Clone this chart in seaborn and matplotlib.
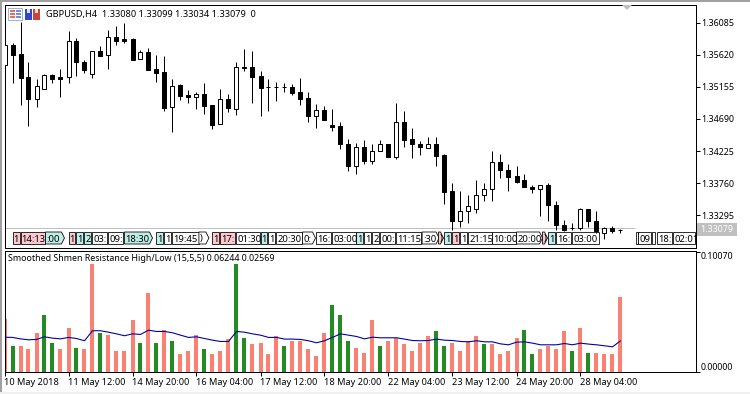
import seaborn as sns
import matplotlib
matplotlib.use('Agg')
import matplotlib.pyplot as plt
import matplotlib.ticker as mticker
from matplotlib.patches import Rectangle, Polygon
from matplotlib.transforms import blended_transform_factory
import numpy as np
import pandas as pd

# Candles
open_p = [1.35464, 1.35754, 1.35629, 1.35290, 1.34981, 1.35117, 1.35319, 1.35290, 1.35290, 1.35812,
          1.35508, 1.35334, 1.35667, 1.35609, 1.35870, 1.35841, 1.35841, 1.35551, 1.35653, 1.35406,
          1.35363, 1.34856, 1.35175, 1.35030, 1.35010, 1.35044, 1.34885, 1.34609, 1.34972, 1.34827,
          1.35435, 1.35435, 1.35305, 1.35146, 1.35146, 1.35146, 1.35146, 1.35073, 1.34986, 1.34735,
          1.34812, 1.34595, 1.34580, 1.34320, 1.34015, 1.34276, 1.34083, 1.34218, 1.34320, 1.34141,
          1.34638, 1.34392, 1.34320, 1.34262, 1.34320, 1.34160, 1.33639, 1.33218, 1.33363, 1.33392,
          1.33581, 1.33682, 1.34059, 1.33943, 1.33856, 1.33798, 1.33697, 1.33682, 1.33726, 1.33450,
          1.33160, 1.33117, 1.33117, 1.33392, 1.33218, 1.33044, 1.33117, 1.33080]
high_p = [1.35783, 1.35793, 1.36097, 1.35513, 1.35261, 1.35339, 1.35339, 1.35406, 1.35957, 1.35860,
          1.35537, 1.35667, 1.35740, 1.35971, 1.36029, 1.36073, 1.35856, 1.35682, 1.35711, 1.35609,
          1.35595, 1.35261, 1.35189, 1.35107, 1.35073, 1.35203, 1.34885, 1.35117, 1.35044, 1.35508,
          1.35696, 1.35667, 1.35377, 1.35261, 1.35218, 1.35203, 1.35189, 1.35276, 1.35073, 1.34899,
          1.34870, 1.34827, 1.34638, 1.34392, 1.34334, 1.34378, 1.34320, 1.34378, 1.34320, 1.34914,
          1.34798, 1.34551, 1.34363, 1.34421, 1.34421, 1.34175, 1.33769, 1.33639, 1.33581, 1.33798,
          1.33769, 1.34218, 1.34175, 1.34044, 1.34015, 1.33885, 1.33740, 1.33726, 1.33769, 1.33508,
          1.33233, 1.33189, 1.33407, 1.33392, 1.33363, 1.33131, 1.33146, 1.33099]
low_p = [1.35445, 1.35213, 1.34894, 1.34585, 1.34865, 1.35117, 1.35213, 1.35010, 1.35203, 1.35315,
         1.35358, 1.35286, 1.35604, 1.35416, 1.35764, 1.35783, 1.35546, 1.35551, 1.35402, 1.35228,
         1.34807, 1.34503, 1.34967, 1.34923, 1.34836, 1.34764, 1.34547, 1.34609, 1.34793, 1.34749,
         1.35387, 1.34923, 1.34735, 1.34807, 1.34952, 1.35073, 1.35039, 1.34894, 1.34648, 1.34551,
         1.34677, 1.34513, 1.34252, 1.33938, 1.33895, 1.34039, 1.34039, 1.34218, 1.34141, 1.34112,
         1.34286, 1.34126, 1.34170, 1.34262, 1.34011, 1.33460, 1.33078, 1.33127, 1.33189, 1.33334,
         1.33494, 1.33508, 1.33841, 1.33639, 1.33769, 1.33697, 1.33610, 1.33286, 1.33214, 1.33078,
         1.33069, 1.33078, 1.33088, 1.33131, 1.33044, 1.32958, 1.33044, 1.33034]
close_p = [1.35754, 1.35619, 1.35286, 1.34981, 1.35160, 1.35319, 1.35271, 1.35271, 1.35812, 1.35508,
           1.35402, 1.35667, 1.35604, 1.35870, 1.35822, 1.35822, 1.35546, 1.35653, 1.35402, 1.35358,
           1.34851, 1.35170, 1.35025, 1.35010, 1.35044, 1.34880, 1.34605, 1.34972, 1.34851, 1.35435,
           1.35421, 1.35300, 1.35141, 1.35146, 1.35146, 1.35146, 1.35068, 1.34981, 1.34735, 1.34812,
           1.34677, 1.34571, 1.34324, 1.34011, 1.34276, 1.34083, 1.34218, 1.34320, 1.34141, 1.34638,
           1.34382, 1.34320, 1.34276, 1.34320, 1.34155, 1.33634, 1.33218, 1.33363, 1.33436, 1.33581,
           1.33682, 1.34059, 1.33943, 1.33851, 1.33779, 1.33697, 1.33682, 1.33726, 1.33450, 1.33160,
           1.33078, 1.33117, 1.33392, 1.33218, 1.33073, 1.33117, 1.33073, 1.33079]

# Indicator histogram and its smoothed line
hist_vals = [.0442, .0218, .0218, .0185, .0319, .0470, .0243, .0185, .0361, .0201,
             .0185, .0898, .0327, .0310, .0168, .0176, .0428, .0243, .0655, .0235,
             .0352, .0252, .0143, .0168, .0310, .0193, .0143, .0168, .0269, .0898,
             .0285, .0227, .0235, .0151, .0294, .0218, .0260, .0252, .0193, .0134,
             .0327, .0554, .0478, .0252, .0201, .0159, .0428, .0218, .0260, .0285,
             .0227, .0168, .0235, .0294, .0344, .0218, .0235, .0176, .0252, .0302,
             .0227, .0227, .0143, .0168, .0277, .0352, .0151, .0193, .0218, .0185,
             .0336, .0168, .0369, .0159, .0159, .0143, .0151, .0624]
hist_green = [1, 5, 6, 9, 12, 17, 19, 21, 25, 29, 30, 35, 41, 42, 43, 47, 54, 55, 60, 65, 66, 71, 73]
line_vals = [.0288, .0286, .0274, .0266, .0269, .0291, .0280, .0274, .0286, .0277,
             .0258, .0342, .0342, .0330, .0316, .0300, .0316, .0311, .0347, .0336,
             .0336, .0325, .0305, .0286, .0291, .0277, .0263, .0252, .0252, .0336,
             .0330, .0316, .0305, .0286, .0286, .0272, .0272, .0269, .0258, .0241,
             .0258, .0286, .0316, .0305, .0294, .0274, .0288, .0283, .0283, .0283,
             .0272, .0260, .0258, .0260, .0272, .0263, .0260, .0252, .0249, .0258,
             .0249, .0249, .0232, .0224, .0246, .0249, .0238, .0224, .0224, .0224,
             .0235, .0224, .0238, .0230, .0224, .0216, .0207, .0257]

price_ticks = [1.36085, 1.35620, 1.35155, 1.34690, 1.34225, 1.33760, 1.33295]
date_ticks = ['10 May 2018', '11 May 12:00', '14 May 20:00', '16 May 04:00', '17 May 12:00',
              '18 May 20:00', '22 May 04:00', '23 May 12:00', '24 May 20:00', '28 May 04:00']

# Event flags along the bottom of the price window
flag_labels = ['1', '14:13', ':00', '1', '1', '2', '03:', '09:', '18:30', '1', '1', '19:45', ')', '1', '17:',
               '01:30', '1', '1', '20:30', '0:', '16:', '03:00', '1', '1', '2', '00:', '11:15', ':30', ')',
               '1', '1', '1', '21:15', '10:00', '20:00', ')', '1', '16:', '03:00', '', '09', '', '18:', '02:01']
flag_colors = list('ppcpccwwccwwwppwcwwwwwcwwwwwpcpwwwwpcwwwwwww')
flag_bars = [1, 2, 5.12, 8, 9, 10, 11, 13, 15, 19, 20, 21, 24.3, 26, 27, 29, 32, 33, 34, 37.25, 39, 41,
             44, 45, 46, 47, 49, 52.2, 54.25, 55, 56, 57, 58, 61, 64, 67.25, 68, 69, 71,
             78.9, 79.25, 81, 81.6, 83.6]
flag_px = [7, 25, 19, 7, 7, 7, 15, 15, 28, 7, 7, 27, 10, 7, 15, 23, 7, 7, 26, 13, 15, 24, 7, 7, 7, 15,
           25, 17, 5, 7, 7, 7, 24, 23, 26, 5, 7, 15, 27, 2, 13, 3, 15, 22]
flag_arrow = {':00', '18:30', ')', ':30', '20:00', '0:'}

W, H = 750, 394
BAR_PX = 8.0
LW = 0.72  # one pixel at 100 dpi
LEFT, RIGHT = 4.5, 695.5
TOP1, BOT1 = 4.5, 247.5
TOP2, BOT2 = 250.5, 371.5
FONT = ['Noto Sans', 'DejaVu Sans']

sns.set_theme(style='white')
plt.rcParams['font.family'] = FONT
plt.rcParams['font.size'] = 6.6
plt.rcParams['axes.edgecolor'] = 'black'
plt.rcParams['axes.linewidth'] = LW

fig = plt.figure(figsize=(W / 100, H / 100), dpi=100, facecolor='white')
ax1 = fig.add_axes([LEFT / W, 1 - BOT1 / H, (RIGHT - LEFT) / W, (BOT1 - TOP1) / H])
ax2 = fig.add_axes([LEFT / W, 1 - BOT2 / H, (RIGHT - LEFT) / W, (BOT2 - TOP2) / H])
xmax = (RIGHT - LEFT) / BAR_PX
idx = np.arange(len(open_p))


def px_rect(x0, y0, x1, y1, color):
    # rectangle given in picture pixels, for the window decoration
    fig.add_artist(Rectangle((x0 / W, 1 - y1 / H), (x1 - x0) / W, (y1 - y0) / H,
                             transform=fig.transFigure, facecolor=color, edgecolor='none'))


# Window frame
px_rect(0, 0, 2, H, '#a0a0a0')
px_rect(0, 0, W, 2, '#a0a0a0')
px_rect(0, H - 2, W, H, '#f0f0f0')

# Toolbar icons in the corner
px_rect(8, 8, 23, 21, '#9db4dc')
px_rect(9, 9, 22, 20, 'white')
for y in (10, 13, 16):
    px_rect(10, y, 15, y + 2, '#e8705c')
    px_rect(16, y, 21, y + 2, '#6f8fe0')
px_rect(25, 9, 32, 20, '#3246c8')
px_rect(27, 9, 30, 13, '#dfe4f5')
px_rect(33, 9, 40, 20, '#c8473a')
px_rect(35, 9, 38, 13, '#f5dfdc')

# Price window
ax1.set_xlim(0, xmax)
ax1.set_ylim(1.32828, 1.36346)
op, hi, lo, cl = map(np.array, (open_p, high_p, low_p, close_p))
ax1.vlines(idx, lo, hi, color='black', lw=LW, zorder=3, snap=True)
up = cl >= op
ax1.bar(idx[up], (cl - op)[up], bottom=op[up], width=0.5, color='white', edgecolor='black', lw=LW, zorder=4)
ax1.bar(idx[~up], (op - cl)[~up], bottom=cl[~up], width=0.5, color='black', edgecolor='black', lw=LW, zorder=4)
ax1.set_xticks([])
ax1.yaxis.tick_right()
ax1.set_yticks(price_ticks)
ax1.yaxis.set_major_formatter(mticker.FormatStrFormatter('%.5f'))
ax1.tick_params(axis='y', length=3, width=LW, pad=1, labelsize=6.4, colors='black', right=True, left=False)
ax1.hlines(1.33112, 0, 78.8, color='#c0c0c0', lw=LW, zorder=1)


def ya(px):
    return (BOT1 - px) / (BOT1 - TOP1)


# Flags
tr = blended_transform_factory(ax1.transData, ax1.transAxes)
fill = {'p': '#ffc8d0', 'c': '#bfeee6', 'w': 'white'}
for lab, col, start, w in zip(flag_labels, flag_colors, flag_bars, flag_px):
    x1 = start + w / BAR_PX
    if lab in flag_arrow:
        tip = x1 - 3 / BAR_PX
        pts = [(start, ya(232)), (tip, ya(232)), (x1, ya(238)), (tip, ya(244)), (start, ya(244))]
    else:
        pts = [(start, ya(232)), (x1, ya(232)), (x1, ya(244)), (start, ya(244))]
    poly = Polygon(pts, closed=True, transform=tr, facecolor=fill[col], edgecolor='black', lw=LW * 0.8, zorder=2)
    ax1.add_patch(poly)
    if lab:
        t = ax1.text(start + 1 / BAR_PX, ya(238), lab, transform=tr, ha='left', va='center_baseline',
                     fontsize=6.8, color='black', zorder=2.5)
        t.set_clip_path(poly)

# Marker under the top edge, price tag and header
fig.add_artist(Polygon([(622 / W, 1 - 5 / H), (632 / W, 1 - 5 / H), (627 / W, 1 - 10 / H)], closed=True,
                       transform=fig.transFigure, facecolor='#c0c0c0', edgecolor='none'))
px_rect(697, 222.5, 737, 236, '#c0c0c0')
fig.text(717 / W, 1 - 229.5 / H, '1.33079', ha='center', va='center', fontsize=6.4, color='white')
fig.text(45.5 / W, 1 - 14.5 / H, 'GBPUSD,H4  1.33080 1.33099 1.33034 1.33079  0',
         ha='left', va='center', fontsize=6.6, color='black')

# Indicator window
df = pd.DataFrame({'bar': idx, 'val': hist_vals,
                   'kind': ['g' if i in hist_green else 's' for i in idx]})
sns.barplot(data=df, x='bar', y='val', hue='kind', palette={'g': '#228b22', 's': '#fa8072'}, dodge=False,
            native_scale=True, width=0.5, saturation=1, legend=False, ax=ax2, linewidth=0)
sns.lineplot(x=idx, y=line_vals, color='#0000a8', lw=LW * 1.1, ax=ax2, legend=False, zorder=5)
ax2.set_xlim(0, xmax)
ax2.set_ylim(0, 0.10154)
ax2.set_xlabel('')
ax2.set_ylabel('')
ax2.yaxis.tick_right()
ax2.set_yticks([0, 0.1007])
ax2.set_yticklabels(['0.00000', '0.10070'])
ax2.tick_params(axis='y', length=3, width=LW, pad=1, labelsize=6.4, colors='black', right=True, left=False)
ax2.get_yticklabels()[0].set_va('bottom')
ax2.get_yticklabels()[1].set_va('top')
ax2.set_xticks(np.arange(len(date_ticks)) * 8)
ax2.set_xticklabels(date_ticks, ha='left', fontsize=6.6)
ax2.tick_params(axis='x', length=3, width=LW, pad=2, bottom=True, colors='black')
fig.text(8 / W, 1 - 258.5 / H, 'Smoothed Shmen Resistance High/Low (15,5,5) 0.06244 0.02569',
         ha='left', va='center', fontsize=6.4, color='black')

fig.savefig('out.png', dpi=100)
